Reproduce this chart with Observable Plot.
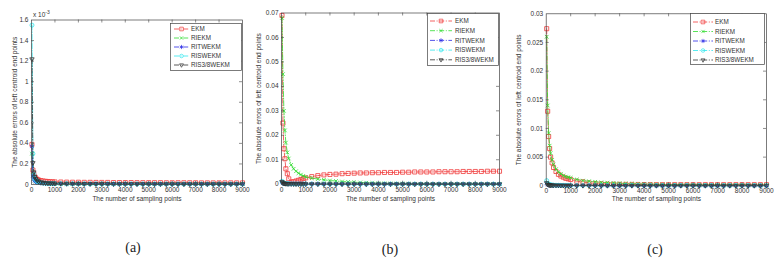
<!DOCTYPE html>
<html>
<head>
<meta charset="utf-8">
<script src="https://cdn.jsdelivr.net/npm/d3@7"></script>
<script src="https://cdn.jsdelivr.net/npm/@observablehq/plot@0.6"></script>
<style>
  html, body { margin: 0; padding: 0; background: #fff; }
  #fig { position: relative; width: 782px; height: 265px; background: #fff; overflow: hidden; font-family: Arial, "Liberation Sans", sans-serif; }
  .panel { position: absolute; top: 0; }
  .legend { position: absolute; }
  .sub { position: absolute; font-family: "Liberation Serif", "DejaVu Serif", serif; font-size: 14px; color: #222; transform: translate(-50%, -50%); }
  .expo { position: absolute; font-size: 6.5px; color: #333; }
</style>
</head>
<body>
<div id="fig"></div>
<script>
// ---------- data ----------
const seriesNames = ["EKM", "RIEKM", "RITWEKM", "RISWEKM", "RIS3/8WEKM"];
const seriesColors = ["#f03a3a", "#2edc2e", "#2a2ae6", "#2ee6ee", "#303030"];

const xTicks = [0, 1000, 2000, 3000, 4000, 5000, 6000, 7000, 8000, 9000];
const aYTicks = [0, 0.2, 0.4, 0.6, 0.8, 1, 1.2, 1.4, 1.6];
const bYTicks = [0, 0.01, 0.02, 0.03, 0.04, 0.05, 0.06, 0.07];
const cYTicks = [0, 0.005, 0.01, 0.015, 0.02, 0.025, 0.03];
const xLabel = "The number of sampling points";
const yLabel = "The absolute errors of left centroid end points";
const panelLabels = ["(a)", "(b)", "(c)"];

// sampling points
const xs = [20, 60, 100, 140, 180, 240, 300, 400, 500, 600, 700, 800, 900, 1000,
  1250, 1500, 1750, 2000, 2250, 2500, 2750, 3000, 3250, 3500, 3750, 4000, 4250, 4500, 4750, 5000,
  5250, 5500, 5750, 6000, 6250, 6500, 6750, 7000, 7250, 7500, 7750, 8000, 8250, 8500, 8750, 9000];

// panel (a), values in units of 1e-3
const aEKM = [0.39, 0.14, 0.10, 0.075, 0.060, 0.050, 0.044, 0.038, 0.034, 0.031, 0.029, 0.027, 0.026, 0.025,
  0.024, 0.023, 0.022, 0.022, 0.021, 0.021, 0.020, 0.020, 0.020, 0.019, 0.019, 0.019, 0.019, 0.018, 0.018, 0.018,
  0.018, 0.018, 0.017, 0.017, 0.017, 0.017, 0.017, 0.017, 0.016, 0.016, 0.016, 0.016, 0.016, 0.016, 0.016, 0.016];
const aRIEKM = [0.30, 0.09, 0.055, 0.038, 0.028, 0.021, 0.017, 0.013, 0.011, 0.010, 0.009, 0.008, 0.0075, 0.007,
  0.0065, 0.006, 0.0058, 0.0055, 0.0053, 0.005, 0.005, 0.0048, 0.0047, 0.0046, 0.0045, 0.0044, 0.0043, 0.0042, 0.0042, 0.0041,
  0.004, 0.004, 0.004, 0.004, 0.004, 0.004, 0.004, 0.004, 0.004, 0.004, 0.004, 0.004, 0.004, 0.004, 0.004, 0.004];
const aRITWEKM = [0.37, 0.08, 0.05, 0.036, 0.028, 0.022, 0.018, 0.014, 0.012, 0.010, 0.009, 0.008, 0.0075, 0.007,
  0.0065, 0.006, 0.0058, 0.0056, 0.0054, 0.0052, 0.005, 0.0049, 0.0048, 0.0047, 0.0046, 0.0045, 0.0044, 0.0043, 0.0043, 0.0042,
  0.0042, 0.0041, 0.0041, 0.004, 0.004, 0.004, 0.0039, 0.0039, 0.0039, 0.0038, 0.0038, 0.0038, 0.0037, 0.0037, 0.0037, 0.0036];
const aRISWEKM = [1.55, 0.30, 0.10, 0.06, 0.042, 0.030, 0.024, 0.018, 0.015, 0.013, 0.011, 0.010, 0.009, 0.0085,
  0.008, 0.0075, 0.007, 0.0068, 0.0065, 0.0063, 0.006, 0.0058, 0.0056, 0.0055, 0.0054, 0.0053, 0.0052, 0.0051, 0.005, 0.005,
  0.0049, 0.0049, 0.0048, 0.0048, 0.0047, 0.0047, 0.0046, 0.0046, 0.0045, 0.0045, 0.0045, 0.0044, 0.0044, 0.0044, 0.0043, 0.0043];
const aRIS38WEKM = [1.22, 0.21, 0.12, 0.075, 0.055, 0.040, 0.030, 0.022, 0.018, 0.015, 0.013, 0.012, 0.011, 0.010,
  0.009, 0.0085, 0.008, 0.0075, 0.007, 0.0068, 0.0065, 0.0063, 0.006, 0.0058, 0.0057, 0.0056, 0.0055, 0.0054, 0.0053, 0.0052,
  0.0051, 0.0051, 0.005, 0.005, 0.0049, 0.0049, 0.0048, 0.0048, 0.0047, 0.0047, 0.0047, 0.0046, 0.0046, 0.0046, 0.0045, 0.0045];

// panel (b)
const bEKM = [0.069, 0.025, 0.0145, 0.0104, 0.0063, 0.0043, 0.0022, 0.0009, 0.0010, 0.0013, 0.0016, 0.0019, 0.0023, 0.0026,
  0.0031, 0.0035, 0.0038, 0.0040, 0.0041, 0.0043, 0.0044, 0.0045, 0.0046, 0.0046, 0.0047, 0.0047, 0.0048, 0.0048, 0.0048, 0.0049,
  0.0049, 0.0050, 0.0050, 0.0050, 0.0050, 0.0051, 0.0051, 0.0051, 0.0051, 0.0052, 0.0052, 0.0052, 0.0052, 0.0053, 0.0053, 0.0053];
const bRIEKM = [0.068, 0.045, 0.030, 0.022, 0.017, 0.013, 0.0105, 0.0079, 0.0063, 0.0053, 0.0045, 0.0039, 0.0034, 0.0030,
  0.0025, 0.0021, 0.0018, 0.0015, 0.0013, 0.0011, 0.00095, 0.0008, 0.0007, 0.0006, 0.0005, 0.0004, 0.00035, 0.0003, 0.00025, 0.0002,
  0.0002, 0.00018, 0.00016, 0.00015, 0.00014, 0.00013, 0.00012, 0.00011, 0.0001, 0.0001, 0.0001, 0.0001, 0.0001, 0.0001, 0.0001, 0.0001];
const bRITWEKM = [0.0008, 0.0004, 0.0003, 0.00025, 0.0002, 0.00018, 0.00016, 0.00014, 0.00012, 0.00011, 0.0001, 0.0001, 0.00009, 0.00009,
  0.00008, 0.00008, 0.00007, 0.00007, 0.00007, 0.00006, 0.00006, 0.00006, 0.00006, 0.00005, 0.00005, 0.00005, 0.00005, 0.00005, 0.00005, 0.00005,
  0.00004, 0.00004, 0.00004, 0.00004, 0.00004, 0.00004, 0.00004, 0.00004, 0.00004, 0.00004, 0.00004, 0.00004, 0.00004, 0.00004, 0.00004, 0.00004];
const bRISWEKM = [0.0012, 0.0006, 0.0004, 0.0003, 0.00025, 0.0002, 0.00018, 0.00015, 0.00013, 0.00012, 0.00011, 0.0001, 0.0001, 0.00009,
  0.00009, 0.00008, 0.00008, 0.00007, 0.00007, 0.00007, 0.00006, 0.00006, 0.00006, 0.00006, 0.00005, 0.00005, 0.00005, 0.00005, 0.00005, 0.00005,
  0.00005, 0.00005, 0.00004, 0.00004, 0.00004, 0.00004, 0.00004, 0.00004, 0.00004, 0.00004, 0.00004, 0.00004, 0.00004, 0.00004, 0.00004, 0.00004];
const bRIS38WEKM = [0.0010, 0.0005, 0.00035, 0.00028, 0.00022, 0.00019, 0.00017, 0.00014, 0.00012, 0.00011, 0.0001, 0.0001, 0.00009, 0.00009,
  0.00008, 0.00008, 0.00007, 0.00007, 0.00007, 0.00006, 0.00006, 0.00006, 0.00006, 0.00005, 0.00005, 0.00005, 0.00005, 0.00005, 0.00005, 0.00005,
  0.00004, 0.00004, 0.00004, 0.00004, 0.00004, 0.00004, 0.00004, 0.00004, 0.00004, 0.00004, 0.00004, 0.00004, 0.00004, 0.00004, 0.00004, 0.00004];

// panel (c)
const cEKM = [0.0274, 0.0130, 0.0086, 0.0065, 0.0050, 0.0040, 0.0032, 0.0025, 0.0020, 0.0017, 0.0015, 0.0013, 0.0012, 0.0011,
  0.0008, 0.0007, 0.0005, 0.0004, 0.00035, 0.0003, 0.00028, 0.00026, 0.00025, 0.00024, 0.00023, 0.00022, 0.00021, 0.0002, 0.0002, 0.0002,
  0.0002, 0.0002, 0.0002, 0.0002, 0.0002, 0.0002, 0.0002, 0.0002, 0.0002, 0.0002, 0.0002, 0.0002, 0.0002, 0.0002, 0.0002, 0.0002];
const cRIEKM = [0.0260, 0.0140, 0.0092, 0.0070, 0.0057, 0.0045, 0.0037, 0.0029, 0.0024, 0.0021, 0.0018, 0.0016, 0.0015, 0.0014,
  0.0011, 0.0009, 0.0008, 0.0007, 0.0006, 0.00055, 0.0005, 0.00045, 0.0004, 0.00037, 0.00034, 0.0003, 0.00028, 0.00026, 0.00024, 0.00022,
  0.0002, 0.0002, 0.00019, 0.00018, 0.00017, 0.00016, 0.00015, 0.00015, 0.00014, 0.00014, 0.00013, 0.00013, 0.00012, 0.00012, 0.00012, 0.00011];
const cRITWEKM = [0.0004, 0.0002, 0.00015, 0.00012, 0.0001, 0.00009, 0.00008, 0.00007, 0.00006, 0.00006, 0.00005, 0.00005, 0.00005, 0.00005,
  0.00004, 0.00004, 0.00004, 0.00004, 0.00004, 0.00003, 0.00003, 0.00003, 0.00003, 0.00003, 0.00003, 0.00003, 0.00003, 0.00003, 0.00003, 0.00003,
  0.00003, 0.00003, 0.00003, 0.00003, 0.00003, 0.00003, 0.00003, 0.00003, 0.00003, 0.00003, 0.00003, 0.00003, 0.00003, 0.00003, 0.00003, 0.00003];
const cRISWEKM = [0.0009, 0.0004, 0.00025, 0.0002, 0.00016, 0.00013, 0.00011, 0.0001, 0.00009, 0.00008, 0.00007, 0.00007, 0.00006, 0.00006,
  0.00005, 0.00005, 0.00005, 0.00004, 0.00004, 0.00004, 0.00004, 0.00004, 0.00004, 0.00004, 0.00003, 0.00003, 0.00003, 0.00003, 0.00003, 0.00003,
  0.00003, 0.00003, 0.00003, 0.00003, 0.00003, 0.00003, 0.00003, 0.00003, 0.00003, 0.00003, 0.00003, 0.00003, 0.00003, 0.00003, 0.00003, 0.00003];
const cRIS38WEKM = [0.0005, 0.00025, 0.00018, 0.00014, 0.00011, 0.0001, 0.00009, 0.00008, 0.00007, 0.00006, 0.00006, 0.00005, 0.00005, 0.00005,
  0.00004, 0.00004, 0.00004, 0.00004, 0.00004, 0.00003, 0.00003, 0.00003, 0.00003, 0.00003, 0.00003, 0.00003, 0.00003, 0.00003, 0.00003, 0.00003,
  0.00003, 0.00003, 0.00003, 0.00003, 0.00003, 0.00003, 0.00003, 0.00003, 0.00003, 0.00003, 0.00003, 0.00003, 0.00003, 0.00003, 0.00003, 0.00003];

// ---------- styling ----------
const dash = "5,1.6,1,1.6";
const plotSymbols = ["square", "times", "asterisk", "circle", "triangle2"];
const plotRadius = [2.3, 1.8, 2.2, 2.0, 2.1];
const plotRotate = [0, 0, 0, 0, 180];
const d3Symbols = [d3.symbolSquare, d3.symbolTimes, d3.symbolAsterisk, d3.symbolCircle, d3.symbolTriangle2];
const font = "Arial, 'Liberation Sans', sans-serif";

function table(cols) {
  const rows = [];
  cols.forEach((vals, si) => vals.forEach((v, i) => rows.push({ s: si, x: xs[i], y: v })));
  return rows;
}

function panel(cfg) {
  const rows = table(cfg.series);
  const marks = [];
  const innerH = cfg.height - cfg.mt - cfg.mb;
  const innerW = cfg.width - cfg.ml - cfg.mr;
  cfg.series.forEach((_, si) => {
    const d = rows.filter(r => r.s === si);
    marks.push(Plot.line(d, { x: "x", y: "y", stroke: seriesColors[si], strokeWidth: 0.8, strokeDasharray: dash }));
    marks.push(Plot.dot(d, {
      x: "x", y: "y", stroke: seriesColors[si], fill: "none", strokeWidth: 0.8,
      symbol: plotSymbols[si], r: plotRadius[si], rotate: plotRotate[si]
    }));
  });
  // inside ticks (MATLAB style) on all four sides
  const xt = xTicks.filter(t => t > 0 && t < 9000);
  const yt = cfg.yTicks.filter(t => t > cfg.yTicks[0] && t < cfg.yTicks[cfg.yTicks.length - 1]);
  marks.push(Plot.tickX(xt, { x: d => d, stroke: "#444", strokeWidth: 0.6, insetTop: innerH - 3 }));
  marks.push(Plot.tickX(xt, { x: d => d, stroke: "#444", strokeWidth: 0.6, insetBottom: innerH - 3 }));
  marks.push(Plot.tickY(yt, { y: d => d, stroke: "#444", strokeWidth: 0.6, insetRight: innerW - 3 }));
  marks.push(Plot.tickY(yt, { y: d => d, stroke: "#444", strokeWidth: 0.6, insetLeft: innerW - 3 }));
  marks.push(Plot.frame({ stroke: "#444", strokeWidth: 0.7 }));
  marks.push(Plot.axisX({ ticks: xTicks, tickSize: 0, tickPadding: 3, tickFormat: d => String(d), label: null, fill: "#333" }));
  marks.push(Plot.axisY({ ticks: cfg.yTicks, tickSize: 0, tickPadding: 3, tickFormat: cfg.yFormat, label: null, fill: "#333" }));
  // axis titles
  marks.push(Plot.text([xLabel], { text: d => d, frameAnchor: "bottom", dy: cfg.xTitleDy, fill: "#333", fontSize: 6.5 }));
  marks.push(Plot.text([yLabel], { text: d => d, frameAnchor: "left", textAnchor: "middle", rotate: -90, dx: -cfg.yTitleDx, fill: "#333", fontSize: 6.5 }));

  const svg = Plot.plot({
    width: cfg.width, height: cfg.height,
    marginLeft: cfg.ml, marginRight: cfg.mr, marginTop: cfg.mt, marginBottom: cfg.mb,
    style: { fontSize: "6.5px", fontFamily: font, background: "transparent", overflow: "visible", color: "#333" },
    x: { domain: [0, 9000] },
    y: { domain: [cfg.yTicks[0], cfg.yTicks[cfg.yTicks.length - 1]] },
    marks
  });
  svg.classList.add("panel");
  svg.style.left = cfg.left + "px";
  return svg;
}

function legend(cfg) {
  const svg = d3.create("svg").attr("class", "legend")
    .attr("width", cfg.w).attr("height", cfg.h)
    .style("left", cfg.left + "px").style("top", cfg.top + "px");
  svg.append("rect").attr("x", 0.5).attr("y", 0.5).attr("width", cfg.w - 1).attr("height", cfg.h - 1)
    .attr("fill", "#fff").attr("stroke", "#444").attr("stroke-width", 0.7);
  seriesNames.forEach((name, i) => {
    const y = cfg.y0 + i * cfg.dy;
    svg.append("line").attr("x1", cfg.lx0).attr("x2", cfg.lx1).attr("y1", y).attr("y2", y)
      .attr("stroke", seriesColors[i]).attr("stroke-width", 0.8).attr("stroke-dasharray", dash);
    const mx = (cfg.lx0 + cfg.lx1) / 2;
    svg.append("path").attr("d", d3.symbol(d3Symbols[i], 0.8 * Math.PI * plotRadius[i] * plotRadius[i])())
      .attr("transform", `translate(${mx},${y}) rotate(${plotRotate[i]})`)
      .attr("fill", "none").attr("stroke", seriesColors[i]).attr("stroke-width", 0.7);
    svg.append("text").attr("x", cfg.tx).attr("y", y).attr("dy", "0.35em")
      .attr("font-size", 6.3).attr("font-family", font).attr("fill", "#333")
      .text(name);
  });
  return svg.node();
}

const fig = document.getElementById("fig");

fig.append(panel({
  left: 0, width: 250, height: 215, ml: 31, mr: 8, mt: 19.5, mb: 31,
  yTicks: aYTicks, yFormat: d => String(d), xTitleDy: 16, yTitleDx: 17,
  series: [aEKM, aRIEKM, aRITWEKM, aRISWEKM, aRIS38WEKM]
}));
fig.append(panel({
  left: 250, width: 265, height: 215, ml: 31, mr: 16, mt: 12.5, mb: 31.3,
  yTicks: bYTicks, yFormat: d => String(d), xTitleDy: 17, yTitleDx: 23,
  series: [bEKM, bRIEKM, bRITWEKM, bRISWEKM, bRIS38WEKM]
}));
fig.append(panel({
  left: 515, width: 267, height: 215, ml: 30.7, mr: 16, mt: 13.3, mb: 29.7,
  yTicks: cYTicks, yFormat: d => String(d), xTitleDy: 15, yTitleDx: 27,
  series: [cEKM, cRIEKM, cRITWEKM, cRISWEKM, cRIS38WEKM]
}));

fig.append(legend({ left: 170, top: 23, w: 72, h: 48, y0: 6, dy: 9, lx0: 4, lx1: 19, tx: 21 }));
fig.append(legend({ left: 427, top: 13, w: 72, h: 53, y0: 8, dy: 9.7, lx0: 3, lx1: 25, tx: 28 }));
fig.append(legend({ left: 690, top: 13, w: 75, h: 52, y0: 9, dy: 9.5, lx0: 3, lx1: 23, tx: 25 }));

const expo = document.createElement("div");
expo.className = "expo";
expo.style.left = "33px";
expo.style.top = "9px";
expo.innerHTML = "x 10<sup style='font-size:5px'>-3</sup>";
fig.append(expo);

[[133, 248], [390, 250], [655, 250]].forEach(([x, y], i) => {
  const el = document.createElement("div");
  el.className = "sub";
  el.style.left = x + "px";
  el.style.top = y + "px";
  el.textContent = panelLabels[i];
  fig.append(el);
});
</script>
</body>
</html>
